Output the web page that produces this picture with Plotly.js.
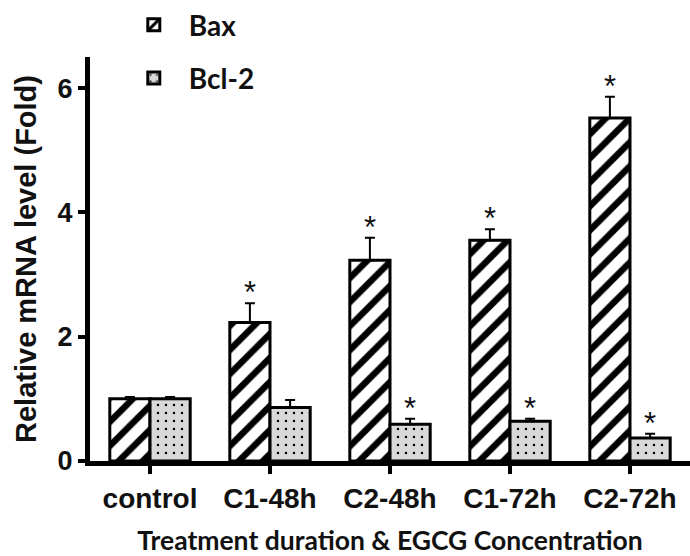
<!DOCTYPE html>
<html>
<head>
<meta charset="utf-8">
<script src="https://cdn.plot.ly/plotly-3.0.1.min.js"></script>
<style>html,body{margin:0;padding:0;background:#fff;}#chart{width:690px;height:556px;}</style>
</head>
<body>
<div id="chart"></div>
<script>
const categories = ["control", "C1-48h", "C2-48h", "C1-72h", "C2-72h"];
const baxValues = [1.0, 2.23, 3.23, 3.55, 5.52];
const baxErrors = [0.03, 0.31, 0.36, 0.18, 0.34];
const bcl2Values = [1.0, 0.86, 0.59, 0.64, 0.37];
const bcl2Errors = [0.03, 0.12, 0.09, 0.04, 0.07];
const baxSignificant = [false, true, true, true, true];
const bcl2Significant = [false, false, true, true, true];
const yTicks = [0, 2, 4, 6];

const barLine = {color: "#000", width: 3};
const errStyle = (arr) => ({type: "data", symmetric: false, array: arr, arrayminus: arr.map(() => 0), color: "#000", thickness: 2, width: 5});

const traces = [
  {
    type: "bar", name: "Bax", legendgroup: "a", x: categories, y: baxValues,
    error_y: errStyle(baxErrors),
    marker: {color: "#fff", line: barLine, pattern: {shape: "/", fgcolor: "#000", bgcolor: "#fff", size: 17, solidity: 0.38}}
  },
  {
    type: "bar", name: "Bcl-2", legendgroup: "b", x: categories, y: bcl2Values,
    error_y: errStyle(bcl2Errors),
    marker: {color: "#d9d9d9", line: barLine, pattern: {shape: ".", fgcolor: "#000", bgcolor: "#d9d9d9", size: 8, solidity: 0.08}}
  }
];

const starFont = {family: "Liberation Sans", size: 31, color: "#111"};
const annotations = [];
categories.forEach((c, i) => {
  if (baxSignificant[i]) annotations.push({x: c, y: baxValues[i] + baxErrors[i], xref: "x", yref: "y", text: "*", showarrow: false, xshift: -20, yanchor: "bottom", yshift: -9, font: starFont});
  if (bcl2Significant[i]) annotations.push({x: c, y: bcl2Values[i] + bcl2Errors[i], xref: "x", yref: "y", text: "*", showarrow: false, xshift: 20, yanchor: "bottom", yshift: -9, font: starFont});
});

const layout = {
  width: 690, height: 556,
  margin: {l: 90, r: 0, t: 56, b: 94.5},
  paper_bgcolor: "#fff", plot_bgcolor: "#fff",
  barmode: "group", bargap: 0.33, bargroupgap: 0,
  showlegend: true,
  legend: {x: 0.048, y: 1.14, xanchor: "left", yanchor: "top", font: {family: "Lato", size: 28, color: "#111", weight: "bold"}, itemwidth: 60, tracegroupgap: 14, bgcolor: "rgba(0,0,0,0)"},
  xaxis: {
    type: "category", range: [-0.5, 4.5],
    showline: true, linecolor: "#000", linewidth: 5,
    ticks: "outside", ticklen: 8, tickwidth: 4, tickcolor: "#000",
    tickfont: {family: "Liberation Sans", size: 28, color: "#111", weight: "bold"},
    showgrid: false, zeroline: false,
    title: {text: "Treatment duration &amp; EGCG Concentration", font: {family: "Lato", size: 26.5, color: "#111", weight: "bold"}, standoff: 24}
  },
  yaxis: {
    range: [0, 6.5], tickvals: yTicks,
    showline: true, linecolor: "#000", linewidth: 5,
    ticks: "outside", ticklen: 7, tickwidth: 4, tickcolor: "#000",
    tickfont: {family: "Liberation Sans", size: 27, color: "#111", weight: "bold"},
    showgrid: false, zeroline: false,
    title: {text: "Relative mRNA level (Fold)", font: {family: "Liberation Sans", size: 29, color: "#111", weight: "bold"}, standoff: 14}
  },
  annotations: annotations
};

Plotly.newPlot("chart", traces, layout, {displayModeBar: false, staticPlot: true});
</script>
</body>
</html>
